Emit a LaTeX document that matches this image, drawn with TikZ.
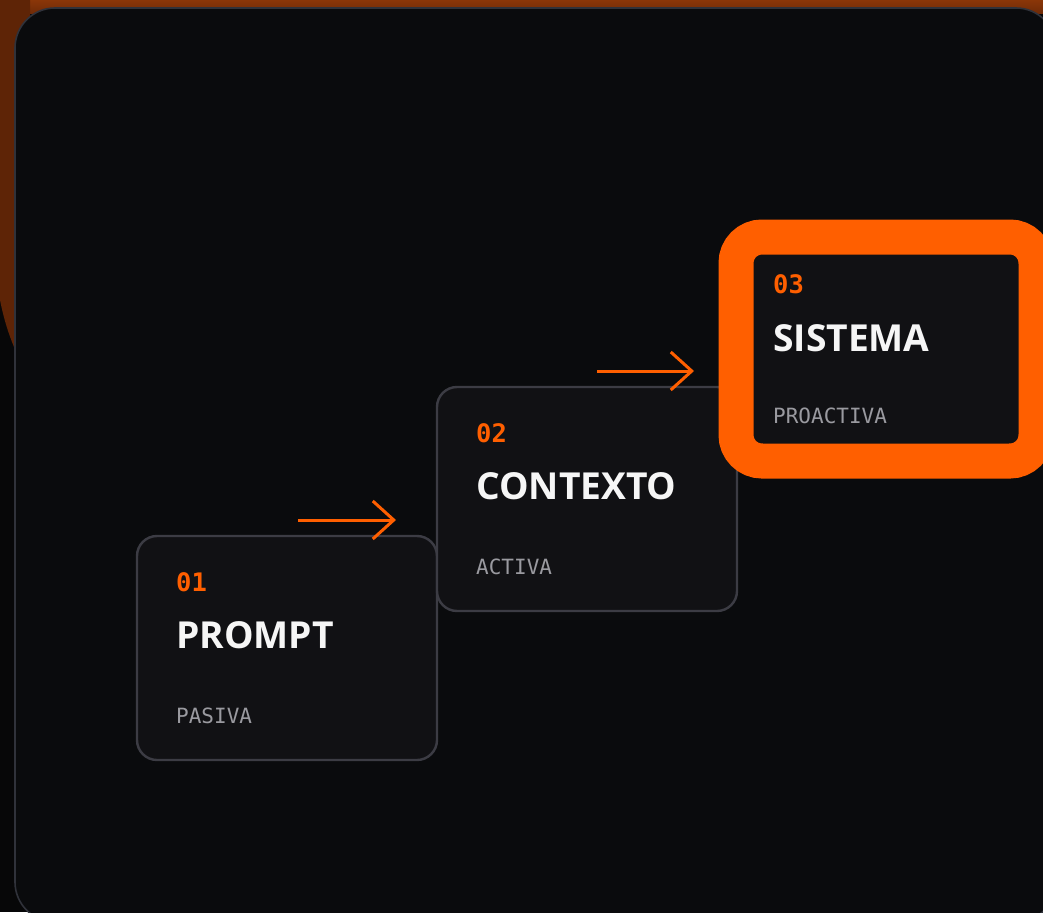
\documentclass[tikz,border=0pt]{standalone}
\usepackage{fontspec}
\setmainfont{Open Sans}
\newfontfamily\monof{DejaVu Sans Mono}
\usetikzlibrary{arrows.meta,calc}
\definecolor{bgdark}{HTML}{070708}
\definecolor{bgbrown}{HTML}{6E2A07}
\definecolor{bgbrownlight}{HTML}{8A3608}
\definecolor{panelfill}{HTML}{0A0B0D}
\definecolor{panelline}{HTML}{30323A}
\definecolor{cardfill}{HTML}{111114}
\definecolor{cardline}{HTML}{3C3C44}
\definecolor{accent}{HTML}{FF5F00}
\definecolor{titlewhite}{HTML}{F6F6F6}
\definecolor{subgray}{HTML}{9A9AA0}
\tikzset{
  card/.style={draw=cardline, line width=2.4pt, fill=cardfill, rounded corners=20pt,
    minimum width=300pt, minimum height=224pt, inner sep=0pt, outer sep=0pt, anchor=north west},
  hotcard/.style={draw=accent, line width=35pt, fill=cardfill, rounded corners=26pt,
    minimum width=300pt, minimum height=224pt, inner sep=0pt, outer sep=0pt, anchor=north west},
  numtxt/.style={anchor=base west, inner sep=0pt, text=accent,
    font=\monof\bfseries\fontsize{25.5}{28}\selectfont},
  titletxt/.style={anchor=base west, inner sep=0pt, text=titlewhite,
    font=\bfseries\fontsize{37.2}{42}\selectfont},
  subtxt/.style={anchor=base west, inner sep=0pt, text=subgray,
    font=\monof\fontsize{21}{24}\selectfont},
  flowarrow/.style={draw=accent, line width=3pt,
    -{Straight Barb[length=21pt,width=38pt,line width=3pt]}}
}
\begin{document}
\begin{tikzpicture}[x=1pt,y=-1pt]
\useasboundingbox (0,0) rectangle (1043,912);
\begin{scope}
\clip (0,0) rectangle (1043,912);
% backdrop
\fill[bgdark] (0,0) rectangle (1043,912);
\shade[top color=bgbrownlight, bottom color=bgbrown] (0,0) rectangle (1043,14);
\fill[bgbrown!85!black] (0,0) -- (30,0) -- (30,380) .. controls (20,360) and (8,340) .. (0,300) -- cycle;
% panel
\draw[panelline, line width=1.6pt, fill=panelfill, rounded corners=40pt] (15,8) rectangle (1056,922);
\end{scope}
% cards
\node[card] (c1) at (137,536) {};
\node[card] (c2) at (437,387) {};
\node[hotcard] (c3) at (736,237) {};
% texts card 1
\node[numtxt] (n1) at ($(c1.north west)+(39,55)$) {01};
\node[titletxt] (t1) at ($(c1.north west)+(39,112)$) {PROMPT};
\node[subtxt] (s1) at ($(c1.north west)+(39,187)$) {PASIVA};
% texts card 2
\node[numtxt] (n2) at ($(c2.north west)+(39,55)$) {02};
\node[titletxt] (t2) at ($(c2.north west)+(39,112)$) {CONTEXTO};
\node[subtxt] (s2) at ($(c2.north west)+(39,187)$) {ACTIVA};
% texts card 3
\node[numtxt] (n3) at ($(c3.north west)+(37,56)$) {03};
\node[titletxt] (t3) at ($(c3.north west)+(37,114)$) {SISTEMA};
\node[subtxt] (s3) at ($(c3.north west)+(37,186)$) {PROACTIVA};
% connectors
\coordinate (a1s) at ($(c1.north west)+(161,-16)$);
\coordinate (a1e) at ($(c1.north west)+(259,-16)$);
\coordinate (a2s) at ($(c2.north west)+(160,-16)$);
\coordinate (a2e) at ($(c2.north west)+(257,-16)$);
\draw[flowarrow] (a1s) -- (a1e);
\draw[flowarrow] (a2s) -- (a2e);
\end{tikzpicture}
\end{document}
